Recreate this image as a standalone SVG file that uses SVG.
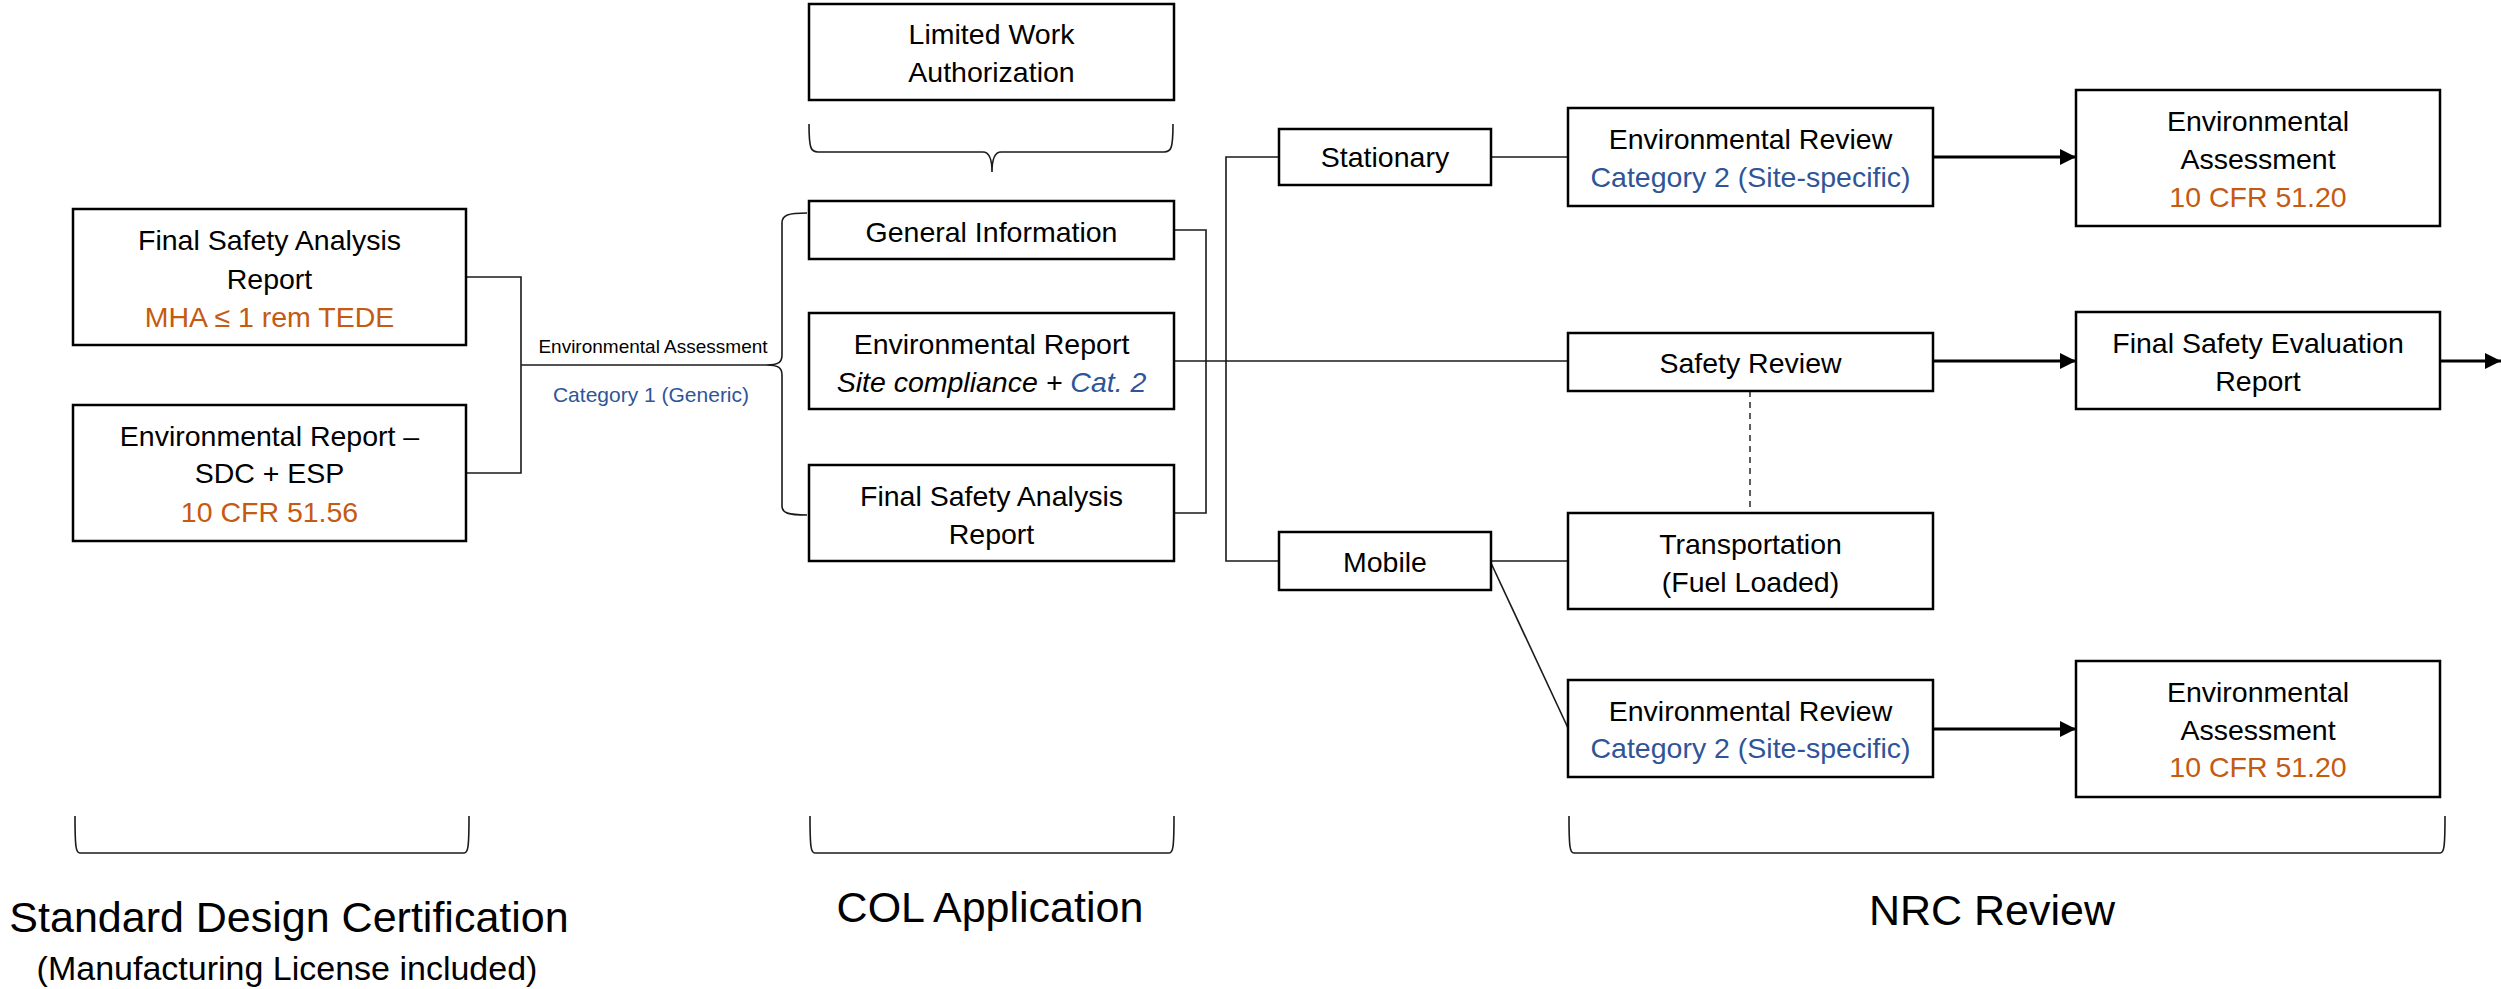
<svg xmlns="http://www.w3.org/2000/svg" width="2501" height="989" viewBox="0 0 2501 989">
  <style>
    .box { fill: #ffffff; stroke: #000000; stroke-width: 2.5; }
    .t { font-family: "Liberation Sans", Arial, sans-serif; font-size: 28.5px; fill: #000000; text-anchor: middle; }
    .or { fill: #C55A11; }
    .bl { fill: #2F5597; }
    .it { font-style: italic; }
    .small { font-family: "Liberation Sans", Arial, sans-serif; text-anchor: middle; }
    .head { font-family: "Liberation Sans", Arial, sans-serif; font-size: 43px; fill: #000000; text-anchor: middle; }
    .sub { font-family: "Liberation Sans", Arial, sans-serif; font-size: 34px; fill: #000000; text-anchor: middle; }
    .ln { fill: none; stroke: #1a1a1a; stroke-width: 1.6; }
    .brace { fill: none; stroke: #1a1a1a; stroke-width: 1.6; }
    .arrow { fill: none; stroke: #000000; stroke-width: 3.2; marker-end: url(#head); }
    .dash { fill: none; stroke: #1a1a1a; stroke-width: 1.4; stroke-dasharray: 6 5; }
  </style>
  <defs>
    <marker id="head" markerUnits="userSpaceOnUse" markerWidth="17" markerHeight="17" refX="16" refY="8" orient="auto">
      <path d="M0,0 L16,8 L0,16 z" fill="#000000"/>
    </marker>
  </defs>

  <!-- connectors -->
  <g id="connectors">
    <path class="ln" d="M466,277 H521 V473 H466"/>
    <path class="ln" d="M521,365 H766"/>
    <path class="ln" d="M1174,230 H1206 V513 H1174"/>
    <path class="ln" d="M1174,361 H1568"/>
    <path class="ln" d="M1279,157 H1226 V561 H1279"/>
    <path class="ln" d="M1491,157 H1568"/>
    <path class="ln" d="M1491,561 H1568"/>
    <path class="ln" d="M1491,563 L1568,728"/>
    <path class="dash" d="M1750,391 V513"/>
    <path class="arrow" d="M1933,157 H2076"/>
    <path class="arrow" d="M1933,361 H2076"/>
    <path class="arrow" d="M1933,729 H2076"/>
    <path class="arrow" d="M2440,361 H2501"/>
  </g>

  <!-- braces -->
  <g id="braces">
    <path class="brace" d="M807,213 C788,213 782,215 782,223 L782,355 C782,362 779,365 766,365 C779,365 782,368 782,375 L782,506 C782,513 788,515 807,515"/>
    <path class="brace" d="M809,124 C809,149 811,152 818,152 L983,152 C989,152 992,158 992,172 C992,158 995,152 1001,152 L1164,152 C1171,152 1173,149 1173,124"/>
    <path class="brace" d="M75,816 C75,848 76,853 80,853 L464,853 C468,853 469,848 469,816"/>
    <path class="brace" d="M810,816 C810,848 811,853 815,853 L1169,853 C1173,853 1174,848 1174,816"/>
    <path class="brace" d="M1569,816 C1569,848 1570,853 1574,853 L2440,853 C2444,853 2445,848 2445,816"/>
  </g>

  <!-- link labels -->
  <g id="link-labels">
    <text class="small" x="653" y="353" font-size="19">Environmental Assessment</text>
    <text class="small bl" x="651" y="402" font-size="21">Category 1 (Generic)</text>
  </g>

  <!-- Standard Design Certification -->
  <g id="sdc-fsar">
    <rect class="box" x="73" y="209" width="393" height="136"/>
    <text class="t" x="269.5" y="250">Final Safety Analysis</text>
    <text class="t" x="269.5" y="289">Report</text>
    <text class="t or" x="269.5" y="327">MHA ≤ 1 rem TEDE</text>
  </g>
  <g id="sdc-er">
    <rect class="box" x="73" y="405" width="393" height="136"/>
    <text class="t" x="269.5" y="446">Environmental Report –</text>
    <text class="t" x="269.5" y="483">SDC + ESP</text>
    <text class="t or" x="269.5" y="522">10 CFR 51.56</text>
  </g>

  <!-- COL Application -->
  <g id="col-lwa">
    <rect class="box" x="809" y="4" width="365" height="96"/>
    <text class="t" x="991.5" y="44">Limited Work</text>
    <text class="t" x="991.5" y="82">Authorization</text>
  </g>
  <g id="col-gi">
    <rect class="box" x="809" y="201" width="365" height="58"/>
    <text class="t" x="991.5" y="242">General Information</text>
  </g>
  <g id="col-er">
    <rect class="box" x="809" y="313" width="365" height="96"/>
    <text class="t" x="991.5" y="354">Environmental Report</text>
    <text class="t it" x="991.5" y="392">Site compliance + <tspan class="bl">Cat. 2</tspan></text>
  </g>
  <g id="col-fsar">
    <rect class="box" x="809" y="465" width="365" height="96"/>
    <text class="t" x="991.5" y="506">Final Safety Analysis</text>
    <text class="t" x="991.5" y="544">Report</text>
  </g>

  <!-- NRC Review -->
  <g id="nrc-stationary">
    <rect class="box" x="1279" y="129" width="212" height="56"/>
    <text class="t" x="1385" y="167">Stationary</text>
  </g>
  <g id="nrc-mobile">
    <rect class="box" x="1279" y="532" width="212" height="58"/>
    <text class="t" x="1385" y="572">Mobile</text>
  </g>
  <g id="nrc-er-top">
    <rect class="box" x="1568" y="108" width="365" height="98"/>
    <text class="t" x="1750.5" y="149">Environmental Review</text>
    <text class="t bl" x="1750.5" y="187">Category 2 (Site-specific)</text>
  </g>
  <g id="nrc-safety">
    <rect class="box" x="1568" y="333" width="365" height="58"/>
    <text class="t" x="1750.5" y="373">Safety Review</text>
  </g>
  <g id="nrc-transport">
    <rect class="box" x="1568" y="513" width="365" height="96"/>
    <text class="t" x="1750.5" y="554">Transportation</text>
    <text class="t" x="1750.5" y="592">(Fuel Loaded)</text>
  </g>
  <g id="nrc-er-bottom">
    <rect class="box" x="1568" y="680" width="365" height="97"/>
    <text class="t" x="1750.5" y="721">Environmental Review</text>
    <text class="t bl" x="1750.5" y="758">Category 2 (Site-specific)</text>
  </g>
  <g id="nrc-ea-top">
    <rect class="box" x="2076" y="90" width="364" height="136"/>
    <text class="t" x="2258" y="131">Environmental</text>
    <text class="t" x="2258" y="169">Assessment</text>
    <text class="t or" x="2258" y="207">10 CFR 51.20</text>
  </g>
  <g id="nrc-fser">
    <rect class="box" x="2076" y="312" width="364" height="97"/>
    <text class="t" x="2258" y="353">Final Safety Evaluation</text>
    <text class="t" x="2258" y="391">Report</text>
  </g>
  <g id="nrc-ea-bottom">
    <rect class="box" x="2076" y="661" width="364" height="136"/>
    <text class="t" x="2258" y="702">Environmental</text>
    <text class="t" x="2258" y="740">Assessment</text>
    <text class="t or" x="2258" y="777">10 CFR 51.20</text>
  </g>

  <!-- stage captions -->
  <g id="captions">
    <text class="head" x="289" y="932">Standard Design Certification</text>
    <text class="sub" x="287" y="980">(Manufacturing License included)</text>
    <text class="head" x="990" y="922">COL Application</text>
    <text class="head" x="1992" y="925">NRC Review</text>
  </g>
</svg>
